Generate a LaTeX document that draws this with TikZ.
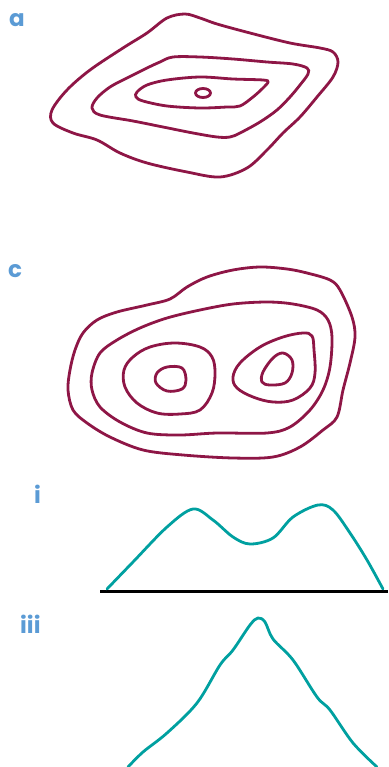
\documentclass[tikz,border=0pt]{standalone}
\usepackage{fontspec}
\setmainfont{Poppins}
\definecolor{contourred}{RGB}{142,22,70}
\definecolor{profileteal}{RGB}{0,160,160}
\definecolor{panelblue}{RGB}{91,155,213}
\begin{document}
\begin{tikzpicture}[x=1pt,y=-1pt,
    isoline/.style={draw=contourred,line width=2.8pt},
    profile/.style={draw=profileteal,line width=2.8pt,line cap=round},
    panel/.style={anchor=base west,inner sep=0pt,text=panelblue,font=\fontsize{23}{23}\selectfont\bfseries}]
  \useasboundingbox (0,0) rectangle (388,767);

  \node[panel] (La) at (9,27) {a};
  \node[panel] (Lc) at (8,277) {c};
  \node[panel] (Li) at (34,503) {i};
  \node[panel] (Liii) at (20,633) {iii};

  % single peak, top view
  \draw[isoline] plot[smooth cycle,tension=0.55] coordinates {
    (185,14) (200,18) (217,24) (250,33) (290,43) (320,48) (333,52) (338,62)
    (333,77) (317,97) (300,117) (283,133) (267,150) (247,168) (220,177)
    (187,172) (147,163) (120,153) (97,140) (73,133) (53,123) (52,110)
    (67,90) (90,70) (123,48) (147,33) (167,18)};
  \draw[isoline] plot[smooth cycle,tension=0.55] coordinates {
    (173,57) (200,57) (233,59) (267,62) (293,64) (307,68) (308,74) (300,85)
    (290,97) (277,110) (260,122) (240,133) (230,137) (217,137) (193,133)
    (163,127) (133,121) (100,115) (92,108) (97,98) (110,87) (127,78)
    (147,68) (160,62)};
  \draw[isoline] plot[smooth cycle,tension=0.55] coordinates {
    (137,92) (147,85) (167,80) (200,77) (233,79) (263,80) (268,82) (263,88)
    (253,97) (240,106) (227,107) (200,108) (167,106) (143,101) (136,97)};
  \draw[isoline] (203,93) ellipse [x radius=7.5pt,y radius=4.5pt];

  % two peaks, top view
  \draw[isoline] plot[smooth cycle,tension=0.55] coordinates {
    (260,267) (233,270) (207,277) (187,287) (170,299) (147,305) (117,312)
    (97,320) (83,333) (75,350) (70,370) (68,390) (73,410) (87,423)
    (110,437) (143,450) (183,455) (233,458) (273,457) (300,447) (323,430)
    (337,417) (343,390) (350,363) (355,337) (352,317) (340,290) (330,280)
    (307,273) (287,269)};
  \draw[isoline] plot[smooth cycle,tension=0.55] coordinates {
    (267,302) (233,304) (200,310) (167,318) (140,328) (117,340) (100,353)
    (92,373) (92,390) (100,407) (120,422) (147,433) (180,435) (217,433)
    (267,433) (290,427) (310,410) (323,390) (330,367) (332,337) (328,320)
    (317,310) (293,304)};
  \draw[isoline] plot[smooth cycle,tension=0.6] coordinates {
    (175,343) (200,347) (212,357) (215,373) (212,393) (200,410) (180,414)
    (157,413) (137,403) (125,387) (124,370) (133,357) (150,347)};
  \draw[isoline] plot[smooth cycle,tension=0.6] coordinates {
    (167,367) (182,368) (186,380) (182,389) (167,391) (156,383) (157,373)};
  \draw[isoline] plot[smooth cycle,tension=0.6] coordinates {
    (303,333) (312,336) (314,350) (315,373) (310,388) (293,400) (273,402)
    (253,397) (237,388) (233,377) (240,363) (260,347) (283,337)};
  \draw[isoline] plot[smooth cycle,tension=0.6] coordinates {
    (283,353) (292,360) (292,373) (285,383) (270,385) (262,382) (263,372)
    (273,358)};

  % side profiles
  \coordinate (g0) at (100,591);
  \coordinate (g1) at (388,591);
  \draw[line width=3pt] (g0) -- (g1);
  \draw[profile] plot[smooth,tension=0.55] coordinates {
    (107,589) (133,562) (167,527) (193,509) (213,520) (233,537) (250,544)
    (273,538) (293,517) (318,505) (333,510) (350,533) (367,560) (383,589)};
  \draw[profile] plot[smooth,tension=0.55] coordinates {
    (128,767) (143,752) (167,733) (197,703) (220,665) (233,650) (250,625)
    (258,618) (265,622) (273,639) (293,660) (317,697) (330,710) (353,743)
    (377,767)};
\end{tikzpicture}
\end{document}
